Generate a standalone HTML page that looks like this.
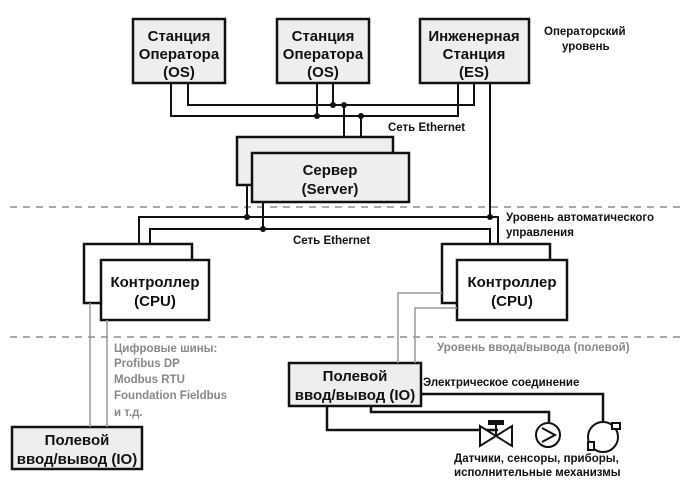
<!DOCTYPE html>
<html><head><meta charset="utf-8"><style>
body{margin:0;background:#fff}
svg{display:block}
text{font-family:"Liberation Sans Narrow","Liberation Sans","DejaVu Sans",sans-serif;font-weight:bold}
.b{font-size:15px;fill:#111;text-anchor:middle}
.s{font-size:11.5px;fill:#111}
.g{font-size:11.5px;fill:#888}
</style></head><body>
<svg width="684" height="488" viewBox="0 0 684 488" xmlns="http://www.w3.org/2000/svg">
<rect width="684" height="488" fill="#fff"/>
<g stroke="#aaa" stroke-width="2" stroke-dasharray="7,6">
<line x1="10" y1="207" x2="680" y2="207"/>
<line x1="10" y1="337" x2="680" y2="337"/>
</g>
<g fill="none" stroke="#111" stroke-width="2">
<polyline points="171,83 171,116 458,116 458,83"/>
<polyline points="188,83 188,105 474,105 474,83"/>
<line x1="317" y1="83" x2="317" y2="116"/>
<line x1="333" y1="83" x2="333" y2="105"/>
<line x1="344" y1="105" x2="344" y2="137"/>
<line x1="361" y1="116" x2="361" y2="153"/>
<line x1="490" y1="83" x2="490" y2="217"/>
<polyline points="139,245 139,217 498,217 498,245"/>
<polyline points="150,245 150,229 490,229 490,245"/>
<line x1="247" y1="185" x2="247" y2="217"/>
<line x1="263" y1="202" x2="263" y2="229"/>
</g>
<g fill="#111">
<circle cx="317" cy="116" r="3"/><circle cx="333" cy="105" r="3"/>
<circle cx="344" cy="105" r="3"/><circle cx="361" cy="116" r="3"/>
<circle cx="247" cy="217" r="3"/><circle cx="263" cy="229" r="3"/>
<circle cx="490" cy="217" r="3"/>
</g>
<g stroke="#111" stroke-width="2.5" fill="#eee">
<rect x="133" y="19" width="92" height="64"/>
<rect x="277" y="19" width="92" height="64"/>
<rect x="420" y="19" width="109" height="64"/>
<rect x="237" y="137" width="156" height="48"/>
<rect x="252" y="153" width="157" height="49"/>
<rect x="84" y="244" width="108" height="59" fill="#fff"/>
<rect x="101" y="260" width="108" height="60" fill="#fff"/>
<rect x="442" y="244" width="108" height="59" fill="#fff"/>
<rect x="457" y="260" width="110" height="60" fill="#fff"/>
<rect x="12" y="427" width="130" height="42"/>
<rect x="289" y="363" width="132" height="43"/>
</g>
<g fill="none" stroke="#999" stroke-width="1.5">
<line x1="90" y1="303" x2="90" y2="427"/>
<line x1="107" y1="320" x2="107" y2="427"/>
<polyline points="398,363 398,293 442,293"/>
<polyline points="415,363 415,308 457,308"/>
</g>
<g fill="none" stroke="#111" stroke-width="2.5">
<polyline points="421,394 603,394 603,421"/>
<polyline points="371,406 371,412 549,412 549,422"/>
<polyline points="327,406 327,430 498,430"/>
</g>
<g fill="#fff" stroke="#111" stroke-width="2">
<polygon points="480,426 480,446 512,426 512,446"/>
<line x1="496" y1="436" x2="496" y2="424"/>
<rect x="489" y="421" width="14" height="3" fill="#111"/>
<circle cx="548" cy="435" r="12"/>
<polyline points="542,428 555,435 542,442" fill="none"/>
<circle cx="603" cy="437" r="15"/>
<rect x="588" y="442" width="6" height="8"/>
<rect x="612" y="423" width="8" height="6"/>
</g>
<text class="b" x="179" y="41">Станция</text>
<text class="b" x="179" y="59">Оператора</text>
<text class="b" x="179" y="77">(OS)</text>
<text class="b" x="323" y="41">Станция</text>
<text class="b" x="323" y="59">Оператора</text>
<text class="b" x="323" y="77">(OS)</text>
<text class="b" x="474" y="41">Инженерная</text>
<text class="b" x="474" y="59">Станция</text>
<text class="b" x="474" y="77">(ES)</text>
<text class="b" x="330" y="175">Сервер</text>
<text class="b" x="330" y="194">(Server)</text>
<text class="b" x="155" y="287">Контроллер</text>
<text class="b" x="155" y="306">(CPU)</text>
<text class="b" x="512" y="287">Контроллер</text>
<text class="b" x="512" y="306">(CPU)</text>
<text class="b" x="77" y="445">Полевой</text>
<text class="b" x="77" y="464">ввод/вывод (IO)</text>
<text class="b" x="355" y="381">Полевой</text>
<text class="b" x="355" y="400">ввод/вывод (IO)</text>
<text class="s" x="544" y="35">Операторский</text>
<text class="s" x="562" y="50">уровень</text>
<text class="s" x="388" y="131">Сеть Ethernet</text>
<text class="s" x="506" y="221">Уровень автоматического</text>
<text class="s" x="506" y="236">управления</text>
<text class="s" x="293" y="244">Сеть Ethernet</text>
<text class="g" x="437" y="351">Уровень ввода/вывода (полевой)</text>
<text class="g" x="114" y="352">Цифровые шины:</text>
<text class="g" x="114" y="367">Profibus DP</text>
<text class="g" x="114" y="383">Modbus RTU</text>
<text class="g" x="114" y="399">Foundation Fieldbus</text>
<text class="g" x="114" y="416">и т.д.</text>
<text class="s" x="423" y="386">Электрическое соединение</text>
<text class="s" x="454" y="462">Датчики, сенсоры, приборы,</text>
<text class="s" x="454" y="476">исполнительные механизмы</text>
</svg>
</body></html>
